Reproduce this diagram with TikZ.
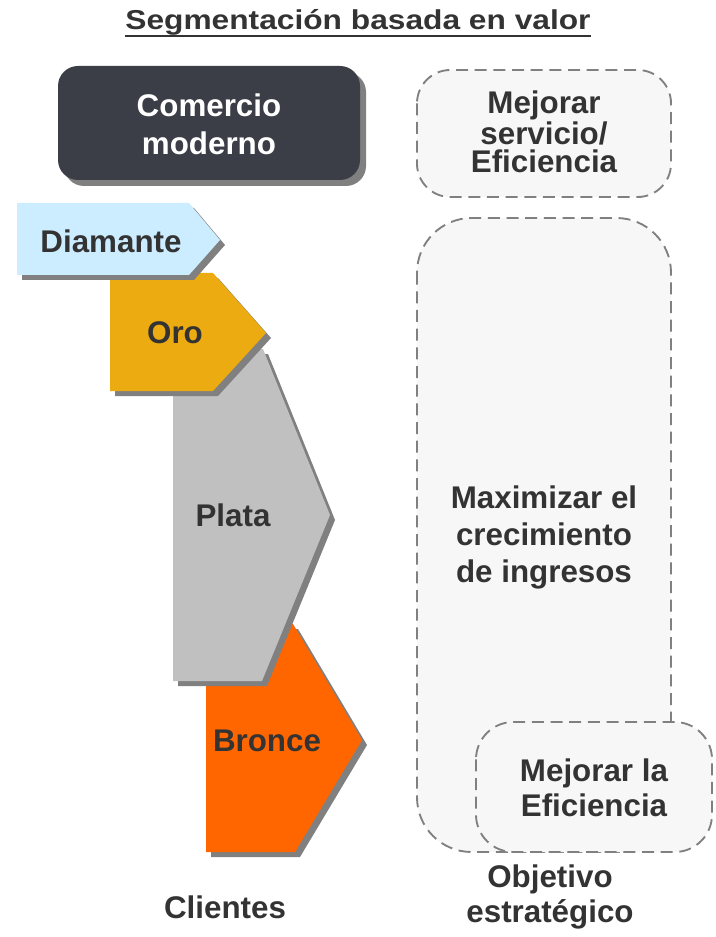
\documentclass[tikz,border=0pt]{standalone}
\usepackage{fontspec}
\setmainfont{Liberation Sans}
\definecolor{txtgray}{HTML}{333333}
\definecolor{shadowgray}{HTML}{808080}
\definecolor{comercio}{HTML}{3B3E47}
\definecolor{diamante}{HTML}{CCECFF}
\definecolor{oro}{HTML}{ECAB10}
\definecolor{plata}{HTML}{C0C0C0}
\definecolor{bronce}{HTML}{FF6600}
\definecolor{boxfill}{HTML}{F7F7F7}
\begin{document}
\begin{tikzpicture}[x=0.75pt,y=-0.75pt,
  txt/.style={font=\bfseries\fontsize{23.5}{#1}\selectfont}, txt/.default=28,
  every node/.style={txt, text=txtgray, align=center, inner sep=0pt},
  goalbox/.style={fill=boxfill, draw=shadowgray, line width=1.4pt, dash pattern=on 9pt off 5pt}]
\useasboundingbox (0,0) rectangle (715,937);
\node[anchor=base, font=\bfseries\fontsize{20.5}{22}\selectfont] (title) at (358,30) {\scalebox{1.16}[1]{Segmentación basada en valor}};
\draw[txtgray, line width=1.8pt] ([yshift=-4.5pt]title.base west) -- ([yshift=-4.5pt]title.base east);
\fill[shadowgray, rounded corners=15pt] (64,72) rectangle (366,186);
\fill[comercio, rounded corners=15pt] (58,66) rectangle (360,180);
\node[txt=28.5, text=white] (moderno) at (209,124) {Comercio\\moderno};
\foreach \l/\t/\a/\tx/\ty/\b/\bt/\col in {206/624/293/362/740/295/852/bronce, 173/349/263/330/515/262/681/plata, 110/273/213/266/333/213/391/oro, 17/203/189/220/240/189/275/diamante} {
  \fill[shadowgray, shift={(5,5)}] (\l,\t) -- (\a,\t) -- (\tx,\ty) -- (\b,\bt) -- (\l,\bt) -- cycle;
  \fill[\col] (\l,\t) -- (\a,\t) -- (\tx,\ty) -- (\b,\bt) -- (\l,\bt) -- cycle;
}
\node (diamante) at (111,241) {Diamante};
\node (oro) at (175,333) {Oro};
\node (plata) at (233,515) {Plata};
\node (bronce) at (267,741) {Bronce};
\path[goalbox, rounded corners=25pt] (417,70) rectangle (671,197);
\path[goalbox, rounded corners=41pt] (417,218) rectangle (671,852);
\path[goalbox, rounded corners=28pt] (476,722) rectangle (712,852);
\node[txt=21] (servicio) at (544,132) {Mejorar\\servicio/\\Eficiencia};
\node[txt=27.75] (ingresos) at (544,537) {Maximizar el\\crecimiento\\de ingresos};
\node[txt=26.25] (eficiencia) at (594,788) {Mejorar la\\Eficiencia};
\node (clientes) at (225,907) {Clientes};
\node[txt=26.25] (objetivo) at (550,897) {Objetivo\\estratégico};
\end{tikzpicture}
\end{document}
